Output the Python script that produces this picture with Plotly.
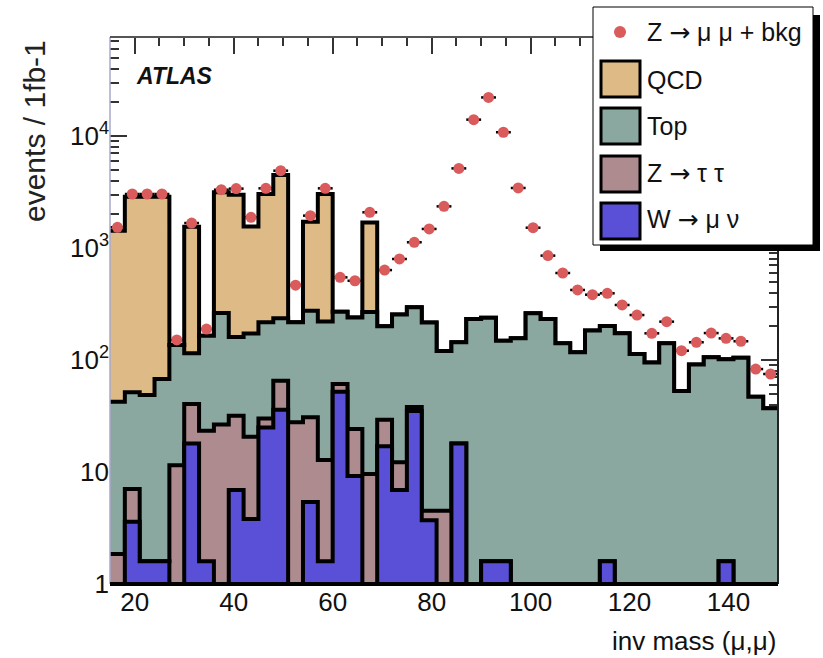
import numpy as np
import plotly.graph_objects as go

# ---------------- data ----------------
bin_low = 15.0
bin_width = 3.0
n_bins = 45

w_munu = [0, 3.6, 1.6, 1.6, 0, 18, 1.6, 0, 6.9, 3.8, 25, 36, 0, 5.4, 1.6, 52, 9.2, 0,
          17, 6.9, 35, 3.7, 0, 18, 0, 1.6, 1.6, 0, 0, 0, 0, 0, 0, 1.6, 0, 0, 0, 0, 0, 0,
          0, 1.6, 0, 0, 0]
z_tautau = [1.85, 3.45, 0, 0, 11.5, 22.5, 21.8, 26.5, 24.9, 16.8, 5.1, 29.3, 27.8, 25.4,
            11.2, 9, 15, 9.6, 12.3, 5.3, 3, 0.8, 4.5, 0, 0, 0, 0, 0, 0, 0, 0, 0, 0, 0, 0,
            0, 0, 0, 0, 0, 0, 0, 0, 0, 0]
top = [40.5, 44.5, 47, 66, 124.5, 74.5, 141.6, 236.5, 129, 152, 187, 171, 189, 244, 208,
       208, 216, 259, 171, 243, 258, 212, 116, 126, 232, 237, 147, 156, 261, 232, 141,
       117, 183, 200, 173, 113, 95, 141, 53, 91, 106, 100, 105, 47, 37]
qcd = [1385, 2820, 2820, 2805, 0, 1435, 0, 2880, 2830, 1380, 2820, 4250, 0, 1440, 2815,
       0, 0, 1425, 0, 0, 0, 0, 0, 0, 0, 0, 0, 0, 0, 0, 0, 0, 0, 0, 0, 0, 0, 0, 0, 0, 0,
       0, 0, 0, 0]
zmumu_bkg = [1530, 3035, 3035, 3035, 151, 1671, 189, 3316, 3390, 1880, 3410, 4900, 466,
             1945, 3410, 547, 510, 2083, 635, 798, 1125, 1480, 2354, 5140, 14000, 22100,
             10800, 3435, 1518, 855, 598, 422, 383, 394, 310, 252, 173, 220, 121, 144,
             174, 156, 147, 83, 75]

y_tick_vals = [1, 10, 100, 1000, 10000]
y_tick_text = ["1", "10", "10<sup>2</sup>", "10<sup>3</sup>", "10<sup>4</sup>"]
ARROW = '<span style="font-family:DejaVu Sans">\u2192</span>'
legend_labels = ["Z " + ARROW + " \u03bc \u03bc + bkg", "QCD", "Top",
                 "Z " + ARROW + " \u03c4 \u03c4", "W " + ARROW + " \u03bc \u03bd"]

# ---------------- derived ----------------
edges = bin_low + bin_width * np.arange(n_bins + 1)
centers = edges[:-1] + bin_width / 2

cum_w = np.array(w_munu, float)
cum_ztt = cum_w + np.array(z_tautau, float)
cum_top = cum_ztt + np.array(top, float)
cum_qcd = cum_top + np.array(qcd, float)

C_QCD = "#DEBA86"
C_TOP = "#8AA8A0"
C_ZTT = "#AD8B8F"
C_W = "#5A50D8"
C_DATA = "#D95B5B"

NARROW = "Liberation Sans Narrow, Arial Narrow, Liberation Sans, Arial, sans-serif"
REG = "Liberation Sans, Arial, sans-serif"


def step_y(v):
    v = np.where(v > 0, v, 1e-2)
    return np.append(v, v[-1])


fig = go.Figure()
for name, vals, col in [("QCD", cum_qcd, C_QCD), ("Top", cum_top, C_TOP),
                        ("Z\u2192\u03c4\u03c4", cum_ztt, C_ZTT), ("W\u2192\u03bc\u03bd", cum_w, C_W)]:
    fig.add_trace(go.Scatter(
        x=edges, y=step_y(vals), mode="lines", line=dict(shape="hv", color="black", width=4),
        fill="tozeroy", fillcolor=col, name=name, showlegend=False, hoverinfo="skip"))

fig.add_trace(go.Scatter(
    x=centers, y=zmumu_bkg, mode="markers", name="Z\u2192\u03bc\u03bc + bkg",
    marker=dict(color=C_DATA, size=11, line=dict(width=0)),
    error_x=dict(type="constant", value=bin_width / 2, color="black", thickness=2.5, width=0),
    showlegend=False))

W, H = 823, 658
L, R, T, B = 110, 45, 37, 74
PW, PH = W - L - R, H - T - B


def px(x):
    return (x - L) / PW


def py(y):
    return (H - B - y) / PH


minor_y = [m * 10 ** d for d in range(0, 5) for m in range(2, 10)]

fig.update_layout(
    width=W, height=H, margin=dict(l=L, r=R, t=T, b=B),
    paper_bgcolor="white", plot_bgcolor="white", showlegend=False,
    xaxis=dict(range=[bin_low, bin_low + bin_width * n_bins], showgrid=False, zeroline=False,
               showline=False, ticks="inside", ticklen=17, tickwidth=1.5, tickcolor="#333",
               tick0=0, dtick=20, mirror="allticks", layer="below traces",
               tickfont=dict(family=NARROW, size=26, color="#111"),
               minor=dict(ticks="inside", ticklen=9, tickwidth=1.5, tickcolor="#333",
                          tick0=0, dtick=5, showgrid=False)),
    yaxis=dict(type="log", range=[0, 4.884], showgrid=False, zeroline=False, showline=False,
               tickmode="array", tickvals=y_tick_vals, ticktext=y_tick_text,
               ticks="inside", ticklen=17, tickwidth=1.5, tickcolor="#333",
               mirror="allticks", layer="below traces",
               tickfont=dict(family=NARROW, size=26, color="#111"),
               minor=dict(tickmode="array", tickvals=minor_y, ticks="inside", ticklen=9,
                          tickwidth=1.5, tickcolor="#333", showgrid=False)),
)

shapes = [
    dict(type="line", xref="paper", yref="paper", x0=0, x1=0, y0=0, y1=1,
         line=dict(color="#A8A8C8", width=1.5), layer="above"),
    dict(type="line", xref="paper", yref="paper", x0=0, x1=1, y0=1, y1=1,
         line=dict(color="#555", width=2), layer="above"),
    dict(type="line", xref="paper", yref="paper", x0=1, x1=1, y0=0, y1=1,
         line=dict(color="#222", width=2), layer="above"),
    dict(type="line", xref="paper", yref="paper", x0=0, x1=1, y0=0, y1=0,
         line=dict(color="black", width=4), layer="above"),
    # legend shadow and box
    dict(type="rect", xref="paper", yref="paper", x0=px(600), x1=px(820), y0=py(251), y1=py(15),
         fillcolor="black", line=dict(width=0), layer="above"),
    dict(type="rect", xref="paper", yref="paper", x0=px(593), x1=px(813), y0=py(245), y1=py(7),
         fillcolor="white", line=dict(color="black", width=1), layer="above"),
    dict(type="circle", xref="paper", yref="paper", x0=px(614), x1=px(626), y0=py(38), y1=py(26),
         fillcolor=C_DATA, line=dict(width=0), layer="above"),
]
swatch_tops = [61, 108, 156, 203]
for top_px, col in zip(swatch_tops, [C_QCD, C_TOP, C_ZTT, C_W]):
    shapes.append(dict(type="rect", xref="paper", yref="paper", x0=px(601), x1=px(640),
                       y0=py(top_px + 36), y1=py(top_px), fillcolor=col,
                       line=dict(color="black", width=3), layer="above"))
fig.update_layout(shapes=shapes)

text_y = [32, 80, 126, 173, 220]
annotations = []
for lab, yy in zip(legend_labels, text_y):
    annotations.append(dict(text=lab, xref="paper", yref="paper", x=px(645), y=py(yy),
                            xanchor="left", yanchor="middle", showarrow=False,
                            font=dict(family=NARROW, size=25, color="#111")))
annotations.append(dict(text="<b><i>ATLAS</i></b>", xref="paper", yref="paper", x=px(134),
                        y=py(76), xanchor="left", yanchor="middle", showarrow=False,
                        font=dict(family=REG, size=23, color="#111")))
annotations.append(dict(text="inv mass (\u03bc,\u03bc)", xref="paper", yref="paper", x=px(778),
                        y=py(641), xanchor="right", yanchor="middle", showarrow=False,
                        font=dict(family=NARROW, size=26, color="#111")))
annotations.append(dict(text="events / 1fb-1", xref="paper", yref="paper", x=px(34),
                        y=py(131), xanchor="center", yanchor="middle", showarrow=False,
                        textangle=-90, font=dict(family=REG, size=30, color="#222")))
fig.update_layout(annotations=annotations)

fig.write_html("out.html")
